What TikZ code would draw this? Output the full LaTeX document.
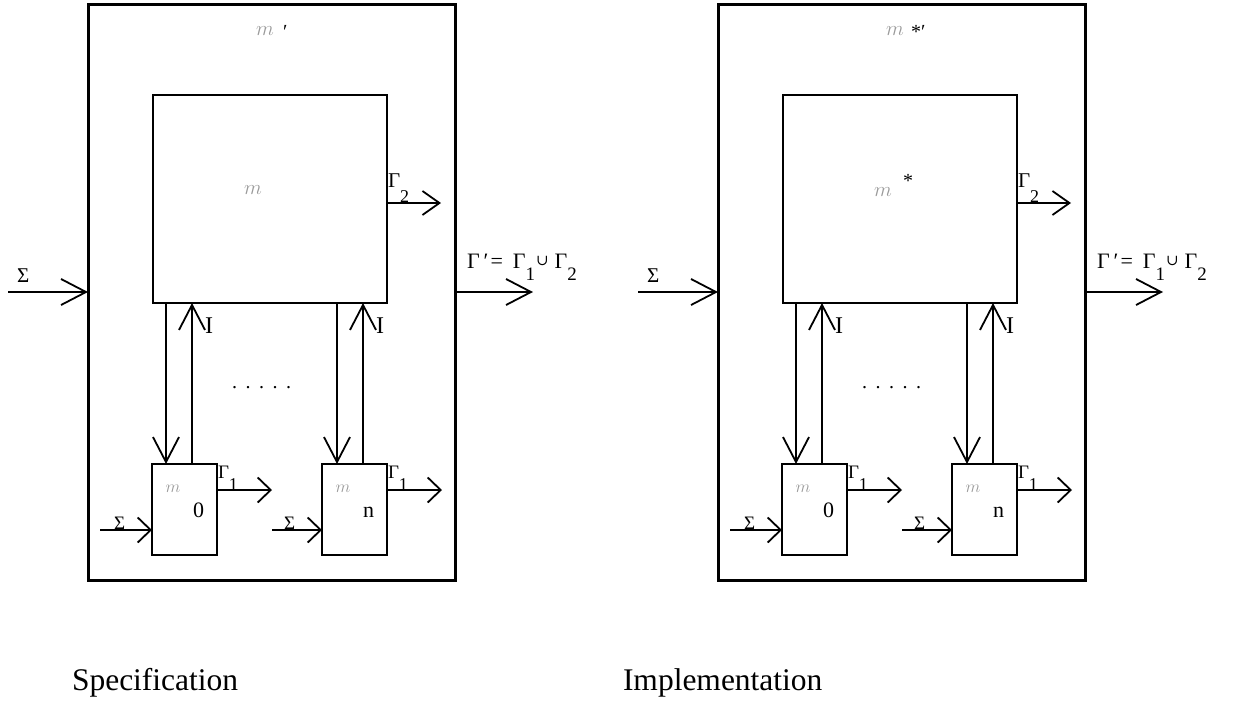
\documentclass[tikz,border=0pt]{standalone}
\usepackage{fontspec}
\setmainfont{Liberation Serif}
\newfontfamily\cupfont{DejaVu Serif}
\newfontfamily\scrA{DejaVu Sans}
\newfontfamily\scrB{DejaVu Serif}
\newfontfamily\scrC{Noto Sans}
\usetikzlibrary{arrows.meta}
\definecolor{mgray}{gray}{0.6}
\newcommand\fsz[1]{\fontsize{#1}{#1}\selectfont}
\newcommand\scrglyph{%
 {\scrA\iffontchar\font"1D4C2 \symbol{"1D4C2}\else
  {\scrB\iffontchar\font"1D4C2 \symbol{"1D4C2}\else
   {\scrC\iffontchar\font"1D4C2 \symbol{"1D4C2}\else $m$\fi}\fi}\fi}}
\newcommand\scm[1]{{\fsz{#1}\color{mgray}\scrglyph}}
\newcommand\lowsub[3]{\raisebox{-#1pt}{\fsz{#2}#3}}
\begin{document}
\begin{tikzpicture}[x=1pt,y=-1pt,
  box/.style={draw, line width=2.6pt, inner sep=0pt, outer sep=0pt},
  outerbox/.style={draw, line width=3pt, inner sep=0pt, outer sep=0pt},
  bigarr/.style={line width=1.8pt, -{Straight Barb[length=25pt,width=26pt]}},
  midarr/.style={line width=1.8pt, -{Straight Barb[length=17pt,width=24pt]}},
  smallarr/.style={line width=1.8pt, -{Straight Barb[length=13pt,width=25pt]}},
  lbl/.style={inner sep=0pt, outer sep=0pt, anchor=base west},
  mlbl/.style={inner sep=0pt, outer sep=0pt, anchor=center}]
\useasboundingbox (0,0) rectangle (1259,702);

% ---------------- left: Specification ----------------
\node[outerbox, minimum width=367pt, minimum height=576pt] (outerL) at (271.5,292) {};
\node[box, minimum width=234pt, minimum height=208pt] (bigL) at (270,199) {};
\node[box, minimum width=65pt, minimum height=91pt] (s0L) at (184.5,509.5) {};
\node[box, minimum width=65pt, minimum height=91pt] (snL) at (354.5,509.5) {};

\coordinate (inL) at (8,292);
\coordinate (outL) at (533,292);
\draw[bigarr] (inL) -- (outerL.west);
\draw[bigarr] (outerL.east) -- (outL);

\coordinate (d0L) at ([xshift=14pt]s0L.north west);
\coordinate (u0L) at ([xshift=40pt]s0L.north west);
\coordinate (dnL) at ([xshift=15pt]snL.north west);
\coordinate (unL) at ([xshift=41pt]snL.north west);
\draw[bigarr] (d0L |- bigL.south) -- (d0L);
\draw[bigarr] (u0L) -- (u0L |- bigL.south);
\draw[bigarr] (dnL |- bigL.south) -- (dnL);
\draw[bigarr] (unL) -- (unL |- bigL.south);

\coordinate (g2L) at ([yshift=-4pt]bigL.east);
\coordinate (g2eL) at (441,203);
\draw[midarr] (g2L) -- (g2eL);

\coordinate (g0L) at ([yshift=-26pt]s0L.north east);
\coordinate (g0eL) at (272,490);
\draw[smallarr] (g0L) -- (g0eL);
\coordinate (gnL) at ([yshift=-26pt]snL.north east);
\coordinate (gneL) at (442,490);
\draw[smallarr] (gnL) -- (gneL);

\coordinate (i0L) at (100,530);
\draw[smallarr] (i0L) -- (i0L -| s0L.west);
\coordinate (inLn) at (272,530);
\draw[smallarr] (inLn) -- (inLn -| snL.west);

% labels left
\node[mlbl] (mtopL) at (265,31) {\scm{20}};
\node[lbl] (ptopL) at (283,38) {\fsz{20}′};
\node[mlbl] (mbigL) at (253,190) {\scm{22}};
\node[mlbl] (m0L) at (173,489) {\scm{17}};
\node[lbl] (z0L) at (193,517) {\fsz{22}0};
\node[mlbl] (mnL) at (343,489) {\scm{17}};
\node[lbl] (znL) at (363,517) {\fsz{22}n};
\node[lbl] (sigL) at (17,282) {\fsz{21}Σ};
\node[lbl] (sig0L) at (114,529) {\fsz{19}Σ};
\node[lbl] (signL) at (284,529) {\fsz{19}Σ};
\node[lbl] (iaL) at (205,333) {\fsz{24}I};
\node[lbl] (ibL) at (376,333) {\fsz{24}I};
\node[lbl] (gam2L) at (388,187) {\fsz{21}Γ\lowsub{15}{18}{2}};
\node[lbl] (gam0L) at (218,478) {\fsz{19}Γ\lowsub{12}{18}{1}};
\node[lbl] (gamnL) at (388,478) {\fsz{19}Γ\lowsub{12}{18}{1}};
\node[lbl] (gpL) at (467,268) {\fsz{22}Γ\hspace{4pt}′\hspace{2pt}=\hspace{10pt}Γ\lowsub{12}{19}{1}\hspace{1pt}\raisebox{3pt}{\cupfont\fsz{15}∪}\hspace{6pt}Γ\lowsub{12}{19}{2}};
\node[lbl] (dotsL) at (232,388) {\fsz{20}.\hspace{8.5pt}.\hspace{8.5pt}.\hspace{8.5pt}.\hspace{8.5pt}.};
\node[lbl] (specL) at (72,690) {\fsz{31.5}Specification};

% ---------------- right: Implementation ----------------
\begin{scope}[xshift=630pt]
\node[outerbox, minimum width=367pt, minimum height=576pt] (outerR) at (271.5,292) {};
\node[box, minimum width=234pt, minimum height=208pt] (bigR) at (270,199) {};
\node[box, minimum width=65pt, minimum height=91pt] (s0R) at (184.5,509.5) {};
\node[box, minimum width=65pt, minimum height=91pt] (snR) at (354.5,509.5) {};

\coordinate (inR) at (8,292);
\coordinate (outR) at (533,292);
\draw[bigarr] (inR) -- (outerR.west);
\draw[bigarr] (outerR.east) -- (outR);

\coordinate (d0R) at ([xshift=14pt]s0R.north west);
\coordinate (u0R) at ([xshift=40pt]s0R.north west);
\coordinate (dnR) at ([xshift=15pt]snR.north west);
\coordinate (unR) at ([xshift=41pt]snR.north west);
\draw[bigarr] (d0R |- bigR.south) -- (d0R);
\draw[bigarr] (u0R) -- (u0R |- bigR.south);
\draw[bigarr] (dnR |- bigR.south) -- (dnR);
\draw[bigarr] (unR) -- (unR |- bigR.south);

\coordinate (g2R) at ([yshift=-4pt]bigR.east);
\coordinate (g2eR) at (441,203);
\draw[midarr] (g2R) -- (g2eR);

\coordinate (g0R) at ([yshift=-26pt]s0R.north east);
\coordinate (g0eR) at (272,490);
\draw[smallarr] (g0R) -- (g0eR);
\coordinate (gnR) at ([yshift=-26pt]snR.north east);
\coordinate (gneR) at (442,490);
\draw[smallarr] (gnR) -- (gneR);

\coordinate (i0R) at (100,530);
\draw[smallarr] (i0R) -- (i0R -| s0R.west);
\coordinate (inRn) at (272,530);
\draw[smallarr] (inRn) -- (inRn -| snR.west);

\node[mlbl] (mtopR) at (265,31) {\scm{20}};
\node[lbl] (ptopR) at (281,38) {\fsz{20}*′};
\node[mlbl] (mbigR) at (253,192) {\scm{22}};
\node[lbl] (starR) at (273,187) {\fsz{20}*};
\node[mlbl] (m0R) at (173,489) {\scm{17}};
\node[lbl] (z0R) at (193,517) {\fsz{22}0};
\node[mlbl] (mnR) at (343,489) {\scm{17}};
\node[lbl] (znR) at (363,517) {\fsz{22}n};
\node[lbl] (sigR) at (17,282) {\fsz{21}Σ};
\node[lbl] (sig0R) at (114,529) {\fsz{19}Σ};
\node[lbl] (signR) at (284,529) {\fsz{19}Σ};
\node[lbl] (iaR) at (205,333) {\fsz{24}I};
\node[lbl] (ibR) at (376,333) {\fsz{24}I};
\node[lbl] (gam2R) at (388,187) {\fsz{21}Γ\lowsub{15}{18}{2}};
\node[lbl] (gam0R) at (218,478) {\fsz{19}Γ\lowsub{12}{18}{1}};
\node[lbl] (gamnR) at (388,478) {\fsz{19}Γ\lowsub{12}{18}{1}};
\node[lbl] (gpR) at (467,268) {\fsz{22}Γ\hspace{4pt}′\hspace{2pt}=\hspace{10pt}Γ\lowsub{12}{19}{1}\hspace{1pt}\raisebox{3pt}{\cupfont\fsz{15}∪}\hspace{6pt}Γ\lowsub{12}{19}{2}};
\node[lbl] (dotsR) at (232,388) {\fsz{20}.\hspace{8.5pt}.\hspace{8.5pt}.\hspace{8.5pt}.\hspace{8.5pt}.};
\end{scope}
\node[lbl] (implR) at (623,690) {\fsz{31.5}Implementation};
\end{tikzpicture}
\end{document}
